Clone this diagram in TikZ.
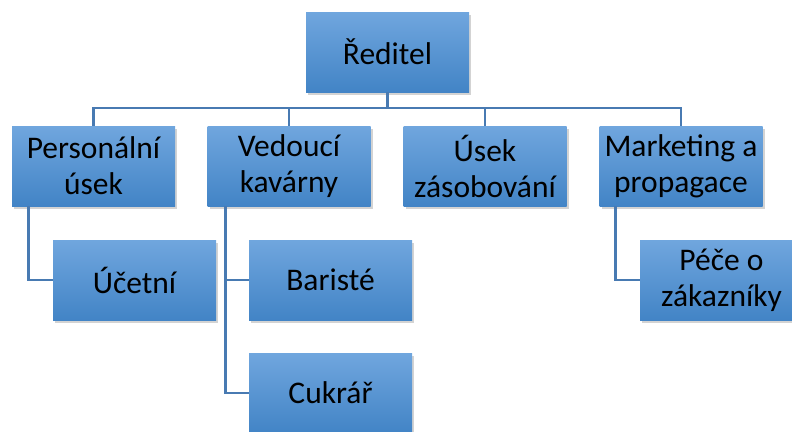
\documentclass[tikz,border=0pt]{standalone}
\usepackage{fontspec}
\setmainfont{Carlito}
\usetikzlibrary{positioning, shadows}
\definecolor{boxtop}{RGB}{112,166,222}
\definecolor{boxmid}{RGB}{82,150,215}
\definecolor{boxbot}{RGB}{66,132,198}
\definecolor{linkblue}{RGB}{72,122,178}

\begin{document}
\begin{tikzpicture}[x=1pt, y=-1pt,
		unit/.style={minimum width=163pt, minimum height=80pt, inner sep=0pt, align=center,
			font=\fontsize{31.5}{36}\selectfont, top color=boxtop, middle color=boxmid, bottom color=boxbot,
			drop shadow={opacity=0.35, shadow xshift=2pt, shadow yshift=-3pt}},
		link/.style={draw=linkblue, line width=2.8pt}]
		\useasboundingbox (0,0) rectangle (792,431);
		% top level
		\node[unit] (reditel) at (387.5,52) {Ředitel};
		\coordinate (bus) at (387.5,108);
		% second level
		\node[unit] (personal) at (93.5,166) {Personální\\úsek};
		\node[unit] (vedouci) at (289,166) {Vedoucí\\kavárny};
		\node[unit] (zasob) at (485,166) {Úsek\\zásobování};
		\node[unit] (marketing) at (681,166) {Marketing a\\propagace};
		% third level
		\node[unit] (ucetni) at (134.5,280) {Účetní};
		\node[unit] (bariste) at (330.5,280) {Baristé};
		\node[unit] (cukrar) at (330.5,393) {Cukrář};
		\node[unit] (pece) at (721.5,280) {Péče o\\zákazníky};
		% connectors
		\draw[link] (reditel.south) -- (bus);
		\foreach \n in {personal, vedouci, zasob, marketing}
			\draw[link] (\n.north) |- (bus);
		\draw[link] ([xshift=17pt]personal.south west) |- (ucetni.west);
		\draw[link] ([xshift=18pt]vedouci.south west) |- (bariste.west);
		\draw[link] ([xshift=18pt]vedouci.south west) |- (cukrar.west);
		\draw[link] ([xshift=16pt]marketing.south west) |- (pece.west);
	\end{tikzpicture}
\end{document}
